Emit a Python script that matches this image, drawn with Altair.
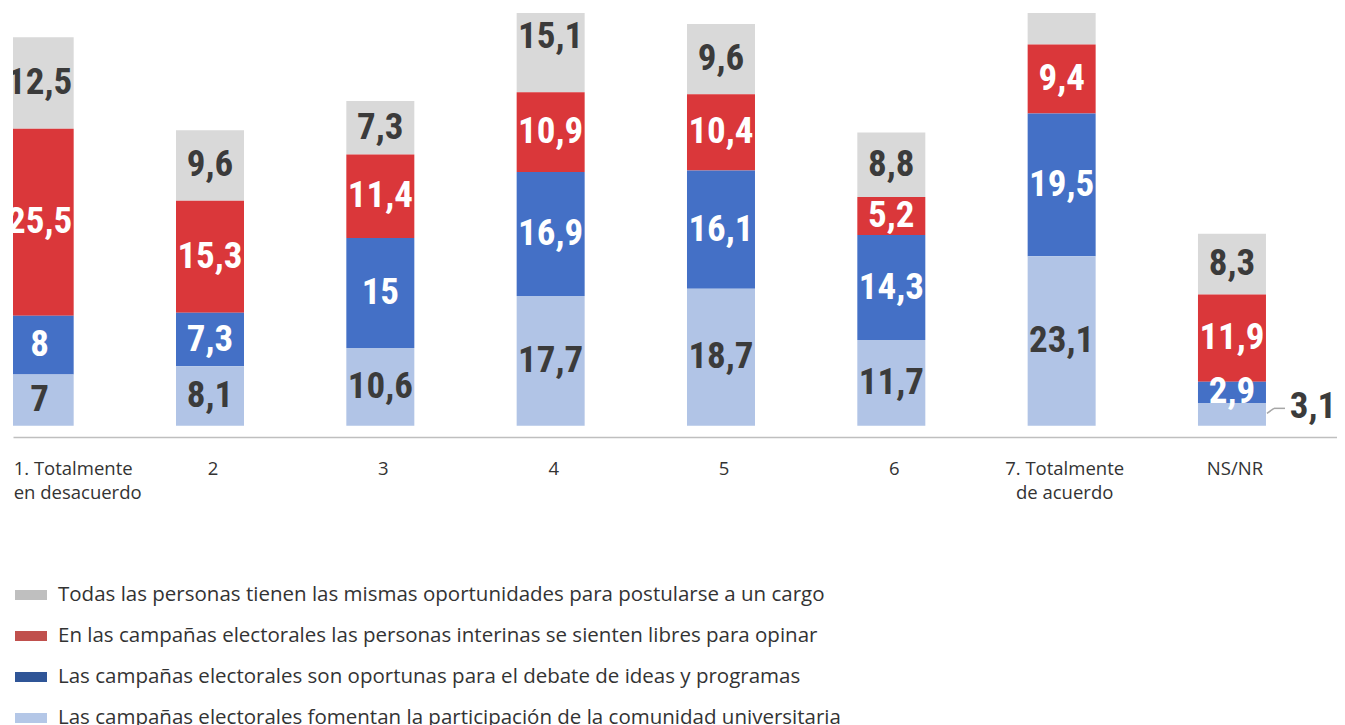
import altair as alt
import pandas as pd

# ---------------- data ----------------
categories = ["1. Totalmente\nen desacuerdo", "2", "3", "4", "5", "6",
              "7. Totalmente\nde acuerdo", "NS/NR"]

series = [
    "Todas las personas tienen las mismas oportunidades para postularse a un cargo",
    "En las campañas electorales las personas interinas se sienten libres para opinar",
    "Las campañas electorales son oportunas para el debate de ideas y programas",
    "Las campañas electorales fomentan la participación de la comunidad universitaria",
]

gray_vals = [12.5, 9.6, 7.3, 15.1, 9.6, 8.8, 28.8, 8.3]
red_vals = [25.5, 15.3, 11.4, 10.9, 10.4, 5.2, 9.4, 11.9]
blue_vals = [8, 7.3, 15, 16.9, 16.1, 14.3, 19.5, 2.9]
lblue_vals = [7, 8.1, 10.6, 17.7, 18.7, 11.7, 23.1, 3.1]

bar_colors = ["#d9d9d9", "#da373a", "#4470c6", "#b1c4e6"]
legend_colors = ["#bfbfbf", "#c0504d", "#2f5597", "#b4c7e7"]

# label drawn outside the bar with a leader line
outside_labels = [("NS/NR", series[3])]

values_by_series = [gray_vals, red_vals, blue_vals, lblue_vals]
rows = []
for s_i, (s, vals) in enumerate(zip(series, values_by_series)):
    for c_i, (c, v) in enumerate(zip(categories, vals)):
        rows.append({
            "cat": c, "idx": c_i, "series": s, "sidx": s_i,
            "stack_order": 3 - s_i, "value": v,
            "outside": (c, s) in outside_labels,
        })
df = pd.DataFrame(rows)
xlab_df = pd.DataFrame({"idx": list(range(len(categories))), "cat": categories})

BAR_FONT = "Liberation Sans Narrow, Roboto Condensed, DejaVu Sans Condensed"
TEXT_FONT = "Open Sans"

Y_MAX = 56.3
x_scale = alt.Scale(domain=[-0.1566, 7.6166], nice=False, zero=False, padding=0)
y_scale = alt.Scale(domain=[-1.54, Y_MAX], nice=False, zero=False, padding=0)

base = alt.Chart(df).transform_stack(
    stack="value", groupby=["idx"], as_=["y0", "y1"],
    sort=[alt.SortField("stack_order", order="ascending")],
).transform_calculate(
    mid="(datum.y0 + datum.y1) / 2",
    label="replace(toString(datum.value), '.', ',')",
)

bars = base.mark_bar(size=68, clip=True).encode(
    x=alt.X("idx:Q", scale=x_scale,
            axis=alt.Axis(labels=False, ticks=False, grid=False, title=None,
                          domainColor="#bfbfbf", domainWidth=1.5)),
    y=alt.Y("y0:Q", scale=y_scale, axis=None),
    y2="y1:Q",
    color=alt.Color("sidx:N", scale=alt.Scale(domain=[0, 1, 2, 3], range=bar_colors),
                    legend=None),
)

legend_layer = base.mark_point(filled=True, opacity=0, clip=True).encode(
    x="idx:Q",
    y="y1:Q",
    fill=alt.Fill(
        "series:N",
        scale=alt.Scale(domain=series, range=legend_colors),
        legend=alt.Legend(
            orient="none", legendX=2, legendY=566, direction="vertical",
            title=None, symbolType="M-1,-0.3125H1V0.3125H-1Z", symbolSize=1024,
            symbolOpacity=1, symbolStrokeWidth=0, labelFont=TEXT_FONT,
            labelFontSize=20.5, labelColor="#333333", labelOffset=11,
            labelLimit=2000, rowPadding=14, padding=0,
        ),
    ),
)

labels_in = base.transform_filter(
    f"!datum.outside && datum.mid < {Y_MAX}"
).mark_text(
    font=BAR_FONT, fontSize=37, fontWeight="bold", baseline="middle",
    align="center", clip=True,
).encode(
    x="idx:Q",
    y="mid:Q",
    text="label:N",
    color=alt.condition("datum.sidx == 1 || datum.sidx == 2",
                        alt.value("#ffffff"), alt.value("#3b3b3b")),
)

labels_out = base.transform_filter("datum.outside").mark_text(
    font=BAR_FONT, fontSize=37, fontWeight="bold", baseline="middle",
    align="center", dx=81, dy=-7, color="#3b3b3b",
).encode(x="idx:Q", y="mid:Q", text="label:N")

leader1 = base.transform_filter("datum.outside").mark_rule(
    color="#a6a6a6", strokeWidth=1.5, xOffset=35, x2Offset=42,
    yOffset=-1, y2Offset=-6,
).encode(x="idx:Q", x2="idx:Q", y="mid:Q", y2="mid:Q")

leader2 = base.transform_filter("datum.outside").mark_rule(
    color="#a6a6a6", strokeWidth=1.5, xOffset=42, x2Offset=53,
    yOffset=-6, y2Offset=-6,
).encode(x="idx:Q", x2="idx:Q", y="mid:Q", y2="mid:Q")

xl_first = alt.Chart(xlab_df).transform_filter("datum.idx == 0").mark_text(
    font=TEXT_FONT, fontSize=18.5, color="#333333", lineBreak="\n",
    lineHeight=24, baseline="top", align="left", dx=-26,
).encode(x="idx:Q", y=alt.value(447), text="cat:N")

xl_rest = alt.Chart(xlab_df).transform_filter("datum.idx > 0").mark_text(
    font=TEXT_FONT, fontSize=18.5, color="#333333", lineBreak="\n",
    lineHeight=24, baseline="top", align="center", dx=3,
).encode(x="idx:Q", y=alt.value(447), text="cat:N")

chart = alt.layer(
    bars, legend_layer, labels_in, labels_out, leader1, leader2, xl_first, xl_rest
).properties(
    width=1324, height=424,
    autosize=alt.AutoSizeParams(type="none"),
    padding={"left": 5, "top": 5, "right": 0, "bottom": 288},
    background="white",
).configure_view(strokeWidth=0)

chart.save("out.html", embed_options={"renderer": "svg", "actions": False})
